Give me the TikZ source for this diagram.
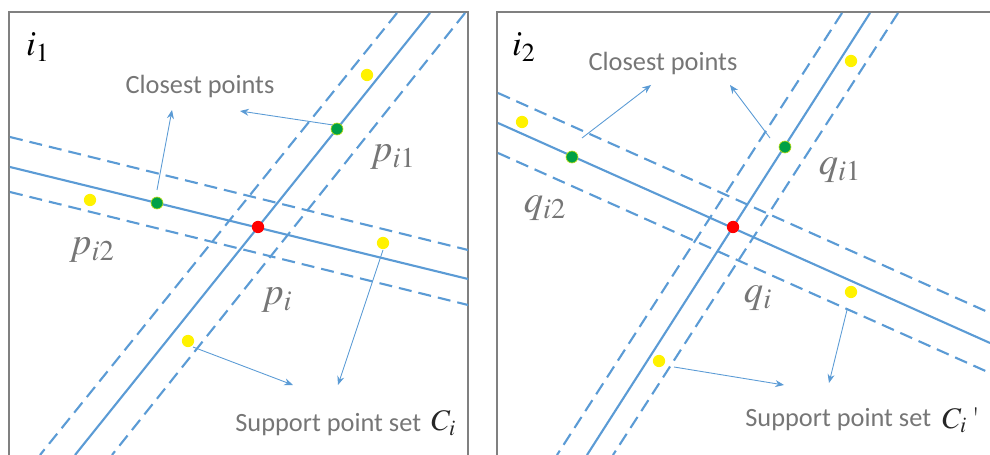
\documentclass[tikz,border=0pt]{standalone}
\usepackage{mathptmx}
\usepackage[no-math]{fontspec}
\setsansfont{Carlito}
\usetikzlibrary{arrows.meta}

\definecolor{lineblue}{RGB}{91,155,213}
\definecolor{txtgray}{RGB}{118,118,118}
\definecolor{framegray}{RGB}{128,128,128}
\definecolor{dotgreen}{RGB}{0,160,70}

\begin{document}
\begin{tikzpicture}[x=0.02cm, y=-0.02cm,
    every node/.style={inner sep=0pt},
    frameline/.style={framegray, line width=1.3pt},
    fitline/.style={lineblue, line width=1.2pt},
    bandline/.style={lineblue, line width=1.2pt, dash pattern=on 7.4pt off 4pt},
    pointer/.style={-{Stealth[length=5pt,width=4pt]}, lineblue, line width=0.5pt},
    seedpt/.style={circle, fill=red, minimum size=7pt},
    nearpt/.style={circle, fill=dotgreen, draw=yellow!70!green, line width=0.4pt, minimum size=6.8pt},
    suppt/.style={circle, fill=yellow, minimum size=7pt},
    caption/.style={font=\sffamily\fontsize{15}{18}\selectfont, text=txtgray},
    symb/.style={font=\fontsize{22}{26}\selectfont, text=txtgray}]

    \useasboundingbox (0,0) rectangle (990,455);

    % =====================================================
    % Left panel: i_1
    % =====================================================
    \begin{scope}[shift={(0,0)}]

        \draw[frameline] (9,455) -- (9,12) -- (468,12) -- (468,455);

        % fitted lines and their bands
        \draw[fitline]  (430,13) -- (75,455);
        \draw[bandline] (397,13) -- (40,455);
        \draw[bandline] (465,13) -- (112,455);

        \draw[fitline]  (10,167) -- (468,279);
        \draw[bandline] (10,137) -- (468,250);
        \draw[bandline] (10,192) -- (468,305);

        % points
        \node[suppt]  (a1) at (367,75) {};
        \node[suppt]  (a2) at (90,200) {};
        \node[suppt]  (a3) at (383,243) {};
        \node[suppt]  (a4) at (188,341) {};
        \node[nearpt] (g1) at (337,129) {};
        \node[nearpt] (g2) at (157,203) {};
        \node[seedpt] (pi) at (258,227) {};

        % labels
        \node (tagA) at (38,47) {\fontsize{20}{24}\selectfont$i_1$};
        \node[caption] (closeA) at (200,86) {Closest points};
        \node[symb] (pA1) at (393,157) {$p_{i1}$};
        \node[symb] (pA2) at (92,250) {$p_{i2}$};
        \node[symb] (pA)  at (277,300) {$p_{i}$};
        \node[caption, anchor=west] (suppA) at (235,425) {Support point set};
        \node[anchor=west, text=black!85] (setA) at (431,423) {\fontsize{17}{20}\selectfont$C_i$};

        % pointers
        \coordinate (s1) at (333,125); \coordinate (e1) at (240,111);
        \coordinate (s2) at (157,190); \coordinate (e2) at (172,110);
        \coordinate (s3) at (193,347); \coordinate (e3) at (293,385);
        \coordinate (s4) at (383,250); \coordinate (e4) at (338,385);
        \draw[pointer] (s1) -- (e1);
        \draw[pointer] (s2) -- (e2);
        \draw[pointer] (s3) -- (e3);
        \draw[pointer] (s4) -- (e4);

    \end{scope}

    % =====================================================
    % Right panel: i_2
    % =====================================================
    \begin{scope}[shift={(495,0)}]

        \draw[frameline] (2,455) -- (2,12) -- (495,12);

        % fitted lines and their bands
        \draw[fitline]  (375,13) -- (92,455);
        \draw[bandline] (347,13) -- (62,455);
        \draw[bandline] (403,13) -- (118,455);

        \draw[fitline]  (3,123) -- (495,343);
        \draw[bandline] (3,93) -- (495,313);
        \draw[bandline] (3,153) -- (495,373);

        % points
        \node[suppt]  (b1) at (356,61) {};
        \node[suppt]  (b2) at (27,122) {};
        \node[suppt]  (b3) at (356,292) {};
        \node[suppt]  (b4) at (164,361) {};
        \node[nearpt] (h1) at (290,147) {};
        \node[nearpt] (h2) at (77,157) {};
        \node[seedpt] (qi) at (238,227) {};

        % labels
        \node (tagB) at (29,47) {\fontsize{20}{24}\selectfont$i_2$};
        \node[caption] (closeB) at (168,63) {Closest points};
        \node[symb] (qB1) at (345,170) {$q_{i1}$};
        \node[symb] (qB2) at (50,208) {$q_{i2}$};
        \node[symb] (qB)  at (263,298) {$q_{i}$};
        \node[caption, anchor=west] (suppB) at (250,420) {Support point set};
        \node[anchor=west, text=black!85] (setB) at (447,420) {\fontsize{17}{20}\selectfont$C_i$\,\textquotesingle};

        % pointers
        \coordinate (t1) at (87,138);  \coordinate (f1) at (156,85);
        \coordinate (t2) at (275,138); \coordinate (f2) at (235,85);
        \coordinate (t3) at (179,367); \coordinate (f3) at (289,385);
        \coordinate (t4) at (352,310); \coordinate (f4) at (334,383);
        \draw[pointer] (t1) -- (f1);
        \draw[pointer] (t2) -- (f2);
        \draw[pointer] (t3) -- (f3);
        \draw[pointer] (t4) -- (f4);

    \end{scope}

\end{tikzpicture}
\end{document}
